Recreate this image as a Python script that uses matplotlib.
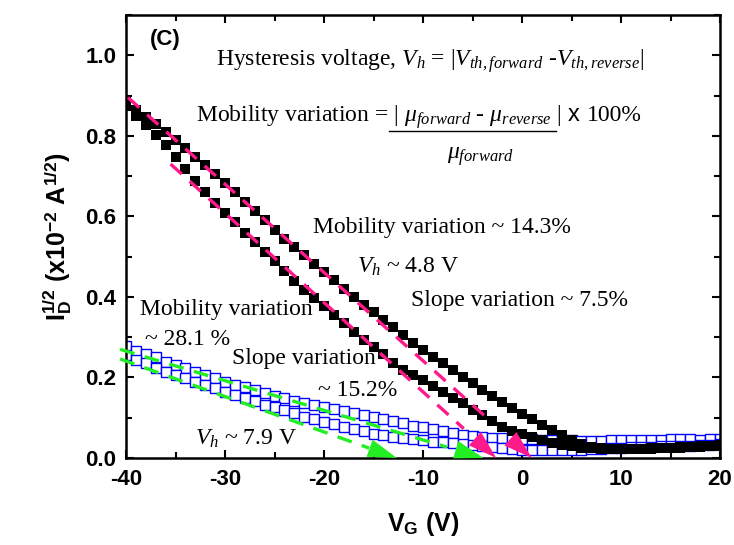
import numpy as np
import matplotlib
matplotlib.use("Agg")
import matplotlib.pyplot as plt
from matplotlib.ticker import MultipleLocator, FormatStrFormatter

# gate voltage sweep (V)
vg = np.arange(-40, 21)

# black filled squares, two sweep directions
black_a = [0.885, 0.865, 0.847, 0.829, 0.81, 0.79, 0.77, 0.748, 0.727, 0.705, 0.683,
           0.66, 0.636, 0.613, 0.59, 0.567, 0.545, 0.524, 0.503, 0.483, 0.462,
           0.441, 0.42, 0.40, 0.38, 0.362, 0.342, 0.325, 0.305, 0.286, 0.268,
           0.251, 0.235, 0.218, 0.202, 0.186, 0.17, 0.155, 0.14, 0.125, 0.11,
           0.097, 0.083, 0.07, 0.057, 0.045, 0.035, 0.028, 0.025, 0.023, 0.022,
           0.022, 0.023, 0.024, 0.025, 0.026, 0.027, 0.028, 0.029, 0.03, 0.032]
black_b = [0.875, 0.85, 0.826, 0.802, 0.778, 0.748, 0.717, 0.688, 0.66, 0.633, 0.608,
           0.585, 0.56, 0.537, 0.512, 0.488, 0.465, 0.44, 0.418, 0.398, 0.378,
           0.356, 0.335, 0.313, 0.293, 0.276, 0.258, 0.237, 0.218, 0.205, 0.193,
           0.18, 0.165, 0.15, 0.136, 0.12, 0.106, 0.091, 0.078, 0.068, 0.06,
           0.051, 0.044, 0.038, 0.033, 0.029, 0.026, 0.024, 0.023, 0.022, 0.022,
           0.022, 0.023, 0.023, 0.024, 0.025, 0.026, 0.027, 0.028, 0.029, 0.03]

# blue open squares, two sweep directions
blue_c = [0.278, 0.266, 0.258, 0.25, 0.239, 0.231, 0.223, 0.214, 0.206, 0.198, 0.189,
          0.181, 0.176, 0.169, 0.161, 0.154, 0.148, 0.142, 0.136, 0.132, 0.127,
          0.122, 0.117, 0.111, 0.107, 0.101, 0.096, 0.091, 0.086, 0.08, 0.076,
          0.072, 0.068, 0.063, 0.058, 0.055, 0.052, 0.05, 0.049, 0.048, 0.047,
          0.046, 0.045, 0.045, 0.044, 0.044, 0.043, 0.043, 0.043, 0.044, 0.044,
          0.044, 0.045, 0.045, 0.045, 0.046, 0.046, 0.046, 0.045, 0.046, 0.047]
blue_d = [0.255, 0.243, 0.235, 0.223, 0.214, 0.206, 0.198, 0.189, 0.181, 0.173, 0.165,
          0.156, 0.148, 0.141, 0.132, 0.126, 0.119, 0.111, 0.102, 0.096, 0.09,
          0.085, 0.078, 0.072, 0.066, 0.06, 0.056, 0.053, 0.05, 0.047, 0.044,
          0.041, 0.039, 0.037, 0.034, 0.032, 0.03, 0.027, 0.025, 0.022, 0.02,
          0.019, 0.019, 0.019, 0.02, 0.02, 0.021, 0.022, 0.023, 0.025, 0.026,
          0.027, 0.028, 0.028, 0.029, 0.03, 0.031, 0.031, 0.032, 0.033, 0.034]

# linear fits: start (V, I) -> x-intercept (V, 0)
pink_start_v = [-39.8, -35.5]
pink_start_i = [0.895, 0.73]
pink_end_v = [1.0, -2.6]
green_start_v = [-40.6, -40.6]
green_start_i = [0.27, 0.246]
green_end_v = [-3.9, -12.65]

PINK = "#ff1a8c"
GREEN = "#22ee22"

plt.rcParams["axes.unicode_minus"] = False
plt.rcParams["mathtext.fontset"] = "custom"
plt.rcParams["mathtext.rm"] = "Liberation Serif"
plt.rcParams["mathtext.it"] = "Liberation Serif:italic"
plt.rcParams["mathtext.bf"] = "Liberation Sans:bold"

fig = plt.figure(figsize=(7.34, 5.45), dpi=100)
ax = fig.add_axes([0.1717, 0.1596, 0.8093, 0.8128])

ax.plot(vg, blue_c, "s", ms=7, mfc="white", mec="#0000ff", mew=1.0)
ax.plot(vg, blue_d, "s", ms=7, mfc="white", mec="#0000ff", mew=1.0)
ax.plot(vg, black_a, "s", ms=7, color="black", mew=0)
ax.plot(vg, black_b, "s", ms=7, color="black", mew=0)


def fit_line(v0, i0, v1, color):
    # dashed part, then a filled arrow head at the intercept
    f = 0.9
    ax.plot([v0, v0 + f * (v1 - v0)], [i0, i0 * (1 - f)], color=color, lw=2.4,
            ls=(0, (4.5, 3.2)), clip_on=False, zorder=5)
    ax.annotate("", xy=(v1, 0), xytext=(v0, i0),
                arrowprops=dict(arrowstyle="-|>,head_length=1.6,head_width=0.5",
                                color=color, lw=0, shrinkA=0, shrinkB=0,
                                mutation_scale=13), zorder=6)


for v0, i0, v1 in zip(pink_start_v, pink_start_i, pink_end_v):
    fit_line(v0, i0, v1, PINK)
for v0, i0, v1 in zip(green_start_v, green_start_i, green_end_v):
    fit_line(v0, i0, v1, GREEN)

ax.set_xlim(-40, 20)
ax.set_ylim(0, 1.1)
ax.xaxis.set_major_locator(MultipleLocator(10))
ax.xaxis.set_minor_locator(MultipleLocator(5))
ax.yaxis.set_major_locator(MultipleLocator(0.2))
ax.yaxis.set_minor_locator(MultipleLocator(0.1))
ax.yaxis.set_major_formatter(FormatStrFormatter("%.1f"))
ax.tick_params(which="both", direction="in", top=True, right=True, width=1.5)
ax.tick_params(which="major", length=6)
ax.tick_params(which="minor", length=4)
ax.tick_params(axis="x", pad=8)
ax.tick_params(axis="y", pad=7)
for s in ax.spines.values():
    s.set_linewidth(1.8)
for lab in ax.get_xticklabels() + ax.get_yticklabels():
    lab.set_fontfamily("Liberation Sans")
    lab.set_fontweight("bold")
    lab.set_fontsize(16)

ax.set_xlabel(r"V$_\mathbf{G}$ (V)", family="Liberation Sans", weight="bold",
              fontsize=18, labelpad=14)
ax.set_ylabel(r"I$_\mathbf{D}^\mathbf{1/2}$ (x10$^\mathbf{-2}$ A$^\mathbf{1/2}$)",
              family="Liberation Sans", weight="bold", fontsize=18, labelpad=8)

serif = dict(family="Liberation Serif", fontsize=17, va="baseline")
ax.text(-37.6, 1.04, "(C)", family="Liberation Sans", weight="bold", fontsize=16,
        va="center")
ax.text(-30.9, 0.975,
        r"Hysteresis voltage, $V_h$ = |$V_{th,forward}$ -$V_{th,reverse}$|", **serif)
ax.text(-32.9, 0.836, r"Mobility variation = | $\mu_{forward}$ - $\mu_{reverse}$ |",
        **serif)
ax.text(4.6, 0.836, "x", family="Liberation Sans", fontsize=17, va="baseline")
ax.text(6.6, 0.836, "100%", **serif)
ax.plot([-13.4, 3.4], [0.811, 0.811], color="black", lw=1.0)
ax.text(-4.2, 0.744, r"$\mu_{forward}$", ha="center", **serif)

ax.text(-21.1, 0.558, "Mobility variation ~ 14.3%", **serif)
ax.text(-16.7, 0.459, r"$V_h$ ~ 4.8 V", **serif)
ax.text(-11.2, 0.377, "Slope variation ~ 7.5%", **serif)
ax.text(-38.6, 0.355, "Mobility variation", **serif)
ax.text(-38.1, 0.28, "~ 28.1 %", **serif)
ax.text(-29.3, 0.233, "Slope variation", **serif)
ax.text(-20.6, 0.154, "~ 15.2%", **serif)
ax.text(-33.0, 0.032, r"$V_h$ ~ 7.9 V", **serif)

fig.savefig("out.png", dpi=100)
